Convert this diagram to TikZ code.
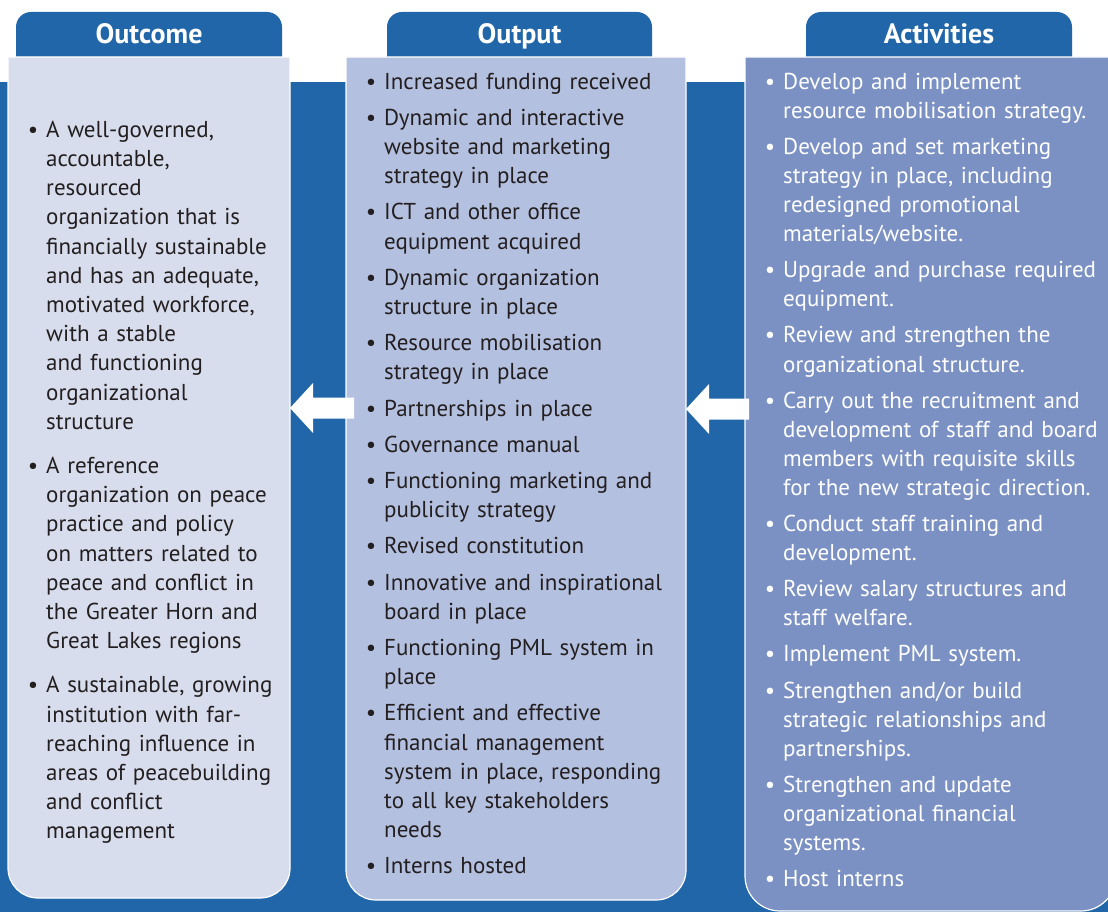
\documentclass[tikz,border=0pt]{standalone}
\usepackage{fontspec}
\setmainfont{PT Sans}
\usepackage{enumitem}
\usetikzlibrary{positioning}

\definecolor{bandblue}{HTML}{2166A8}
\definecolor{outcomefill}{HTML}{D8DDED}
\definecolor{outputfill}{HTML}{B4C0DF}
\definecolor{activityfill}{HTML}{7B91C3}
\definecolor{inktext}{HTML}{231F20}

\newcommand\bodysize{\fontsize{23}{29.2}\selectfont}
\newlist{panellist}{itemize}{1}
\setlist[panellist]{label=\textbullet, leftmargin=20pt, labelsep=8pt,
  topsep=0pt, partopsep=0pt, parsep=0pt, itemsep=7pt}

% panel with square top and round bottom corners: x1, x2, top, bottom, radius
\newcommand\panelpath[5]{(#1,#3) -- (#1,#4-#5) arc[start angle=180, end angle=90, radius=#5]
  -- (#2-#5,#4) arc[start angle=90, end angle=0, radius=#5] -- (#2,#3) -- cycle}
% header tab with round top corners: x1, x2, top, bottom
\newcommand\tabpath[4]{(#1,#4) -- (#1,#3+15) arc[start angle=180, end angle=270, radius=15]
  -- (#2-15,#3) arc[start angle=270, end angle=360, radius=15] -- (#2,#4) -- cycle}
% white block arrow: tip, tail
\newcommand\blockarrow[2]{\fill[arrowfill] (#1) -- ([shift={(23pt,25pt)}]#1)
  -- ([shift={(23pt,10.5pt)}]#1) -- ([yshift=10.5pt]#2) -- ([yshift=-10.5pt]#2)
  -- ([shift={(23pt,-10.5pt)}]#1) -- ([shift={(23pt,-25pt)}]#1) -- cycle;}

\tikzset{
  panel/.style={draw=white, line width=1.2pt},
  tab/.style={fill=bandblue},
  header/.style={anchor=base, text=white, font=\bfseries\fontsize{28}{32}\selectfont},
  listtext/.style={anchor=west, inner sep=0pt, align=left, font=\bodysize},
  arrowfill/.style={fill=white},
}

\begin{document}
\begin{tikzpicture}[x=1pt, y=-1pt]
  \useasboundingbox (0,0) rectangle (1108,912);
  \clip (0,0) rectangle (1108,912);
  \fill[bandblue] (0,82) rectangle (1108,912);

  % header tabs
  \fill[tab] \tabpath{16}{282}{12}{57};
  \fill[tab] \tabpath{387}{652}{12}{57};
  \fill[tab] \tabpath{806}{1072}{12}{57};
  \node[header] (outcomehead) at (149,43.5) {Outcome};
  \node[header] (outputhead) at (519.5,43.5) {Output};
  \node[header] (activityhead) at (939,43.5) {Activities};

  % panels
  \filldraw[panel, fill=outcomefill] \panelpath{8}{290}{57}{898}{30};
  \filldraw[panel, fill=outputfill] \panelpath{346}{686}{57}{900}{30};
  \filldraw[panel, fill=activityfill] \panelpath{745}{1116}{57}{911}{35};

  \node[listtext, text width=260, text=inktext] (outcomelist) at (26,476) {%
    \begin{panellist}[itemsep=15pt]
      \item A well-governed,\\ accountable,\\ resourced\\ organization that is\\
        financially sustainable\\ and has an adequate,\\ motivated workforce,\\
        with a stable\\ and functioning\\ organizational\\ structure
      \item A reference\\ organization on peace\\ practice and policy\\
        on matters related to\\ peace and conflict in\\ the Greater Horn and\\
        Great Lakes regions
      \item A sustainable, growing\\ institution with far-\\ reaching influence in\\
        areas of peacebuilding\\ and conflict\\ management
    \end{panellist}};

  \node[listtext, text width=310, text=inktext] (outputlist) at (364,467) {%
    \begin{panellist}
      \item Increased funding received
      \item Dynamic and interactive\\ website and marketing\\ strategy in place
      \item ICT and other office\\ equipment acquired
      \item Dynamic organization\\ structure in place
      \item Resource mobilisation\\ strategy in place
      \item Partnerships in place
      \item Governance manual
      \item Functioning marketing and\\ publicity strategy
      \item Revised constitution
      \item Innovative and inspirational\\ board in place
      \item Functioning PML system in\\ place
      \item Efficient and effective\\ financial management\\
        system in place, responding\\ to all key stakeholders\\ needs
      \item Interns hosted
    \end{panellist}};

  \node[listtext, text width=340, text=white, font=\fontsize{23}{29.1}\selectfont]
    (activitylist) at (763,473.5) {%
    \begin{panellist}
      \item Develop and implement\\ resource mobilisation strategy.
      \item Develop and set marketing\\ strategy in place, including\\
        redesigned promotional\\ materials/website.
      \item Upgrade and purchase required\\ equipment.
      \item Review and strengthen the\\ organizational structure.
      \item Carry out the recruitment and\\ development of staff and board\\
        members with requisite skills\\ for the new strategic direction.
      \item Conduct staff training and\\ development.
      \item Review salary structures and\\ staff welfare.
      \item Implement PML system.
      \item Strengthen and/or build\\ strategic relationships and\\ partnerships.
      \item Strengthen and update\\ organizational financial\\ systems.
      \item Host interns
    \end{panellist}};

  % arrows between panels
  \coordinate (outcometip) at (290,408);
  \coordinate (outputtail) at (354,408);
  \coordinate (outputtip) at (686,409);
  \coordinate (activitytail) at (749,409);
  \blockarrow{outcometip}{outputtail}
  \blockarrow{outputtip}{activitytail}
\end{tikzpicture}
\end{document}
